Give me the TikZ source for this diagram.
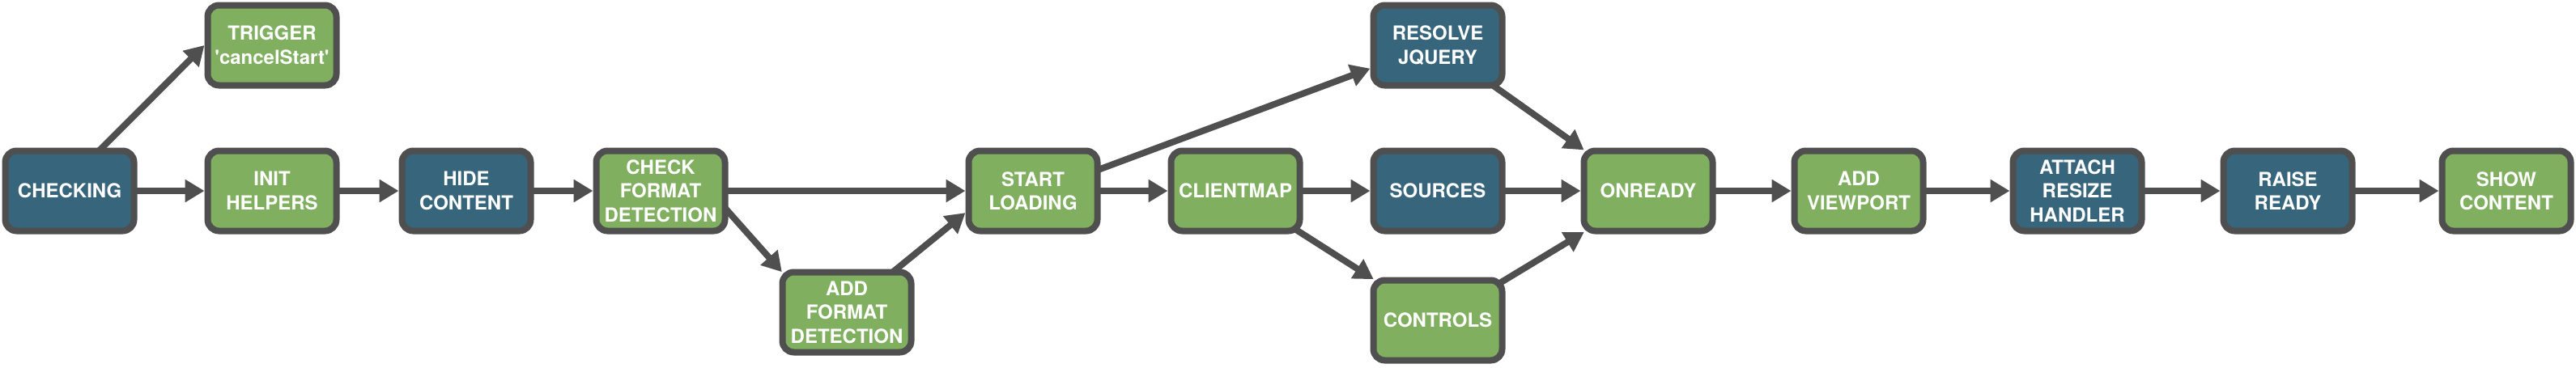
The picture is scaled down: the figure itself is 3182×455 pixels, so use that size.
\documentclass[tikz,border=0pt]{standalone}
\usepackage{fontspec}
\newfontfamily\hv{TeX Gyre Heros}
\usetikzlibrary{arrows.meta,backgrounds}
\definecolor{bluefill}{RGB}{54,101,124}
\definecolor{greenfill}{RGB}{127,175,95}
\definecolor{edgegray}{RGB}{79,79,79}
\begin{document}
\begin{tikzpicture}[x=0.5pt,y=-0.5pt,
  box/.style={draw=edgegray, line width=4pt, rounded corners=7pt,
    minimum width=79.5pt, minimum height=49.5pt, inner sep=0pt,
    align=center, text=white,
    font=\hv\bfseries\fontsize{12pt}{14.75pt}\selectfont},
  bluebox/.style={box, fill=bluefill},
  greenbox/.style={box, fill=greenfill},
  conn/.style={draw=edgegray, line width=4pt, shorten <=-5pt,
    -{Triangle[length=12pt,width=13.5pt]}},
  corner/.style={shorten >=-2.5pt}
]
\useasboundingbox (0,0) rectangle (3182,455);

\node[bluebox]  (checking)  at (86,236)   {CHECKING};
\node[greenbox] (trigger)   at (336,56)   {TRIGGER\\'cancelStart'};
\node[greenbox] (init)      at (336,236)  {INIT\\HELPERS};
\node[bluebox]  (hide)      at (576,236)  {HIDE\\CONTENT};
\node[greenbox] (check)     at (816,236)  {CHECK\\FORMAT\\DETECTION};
\node[greenbox] (addfmt)    at (1046,386) {ADD\\FORMAT\\DETECTION};
\node[greenbox] (start)     at (1276,236) {START\\LOADING};
\node[greenbox] (clientmap) at (1526,236) {CLIENTMAP};
\node[bluebox]  (resolve)   at (1776,56)  {RESOLVE\\JQUERY};
\node[bluebox]  (sources)   at (1776,236) {SOURCES};
\node[greenbox] (controls)  at (1776,396) {CONTROLS};
\node[greenbox] (onready)   at (2036,236) {ONREADY};
\node[greenbox] (addvp)     at (2296,236) {ADD\\VIEWPORT};
\node[bluebox]  (attach)    at (2566,236) {ATTACH\\RESIZE\\HANDLER};
\node[bluebox]  (raise)     at (2826,236) {RAISE\\READY};
\node[greenbox] (show)      at (3096,236) {SHOW\\CONTENT};

\begin{scope}[on background layer]
\draw[conn] (checking.53) -- (trigger.west);
\draw[conn] (checking.east) -- (init.west);
\draw[conn] (init.east) -- (hide.west);
\draw[conn] (hide.east) -- (check.west);
\draw[conn] (check.east) -- (start.west);
\draw[conn,corner] (check.-17) -- (addfmt.north west);
\draw[conn] (addfmt.41) -- (start.198);
\draw[conn] (start.18) -- (resolve.199);
\draw[conn] (start.east) -- (clientmap.west);
\draw[conn] (clientmap.east) -- (sources.west);
\draw[conn,corner] (clientmap.south east) -- (controls.north west);
\draw[conn,corner] (resolve.-36) -- (onready.north west);
\draw[conn] (sources.east) -- (onready.west);
\draw[conn,corner] (controls.31) -- (onready.south west);
\draw[conn] (onready.east) -- (addvp.west);
\draw[conn] (addvp.east) -- (attach.west);
\draw[conn] (attach.east) -- (raise.west);
\draw[conn] (raise.east) -- (show.west);
\end{scope}
\end{tikzpicture}
\end{document}
